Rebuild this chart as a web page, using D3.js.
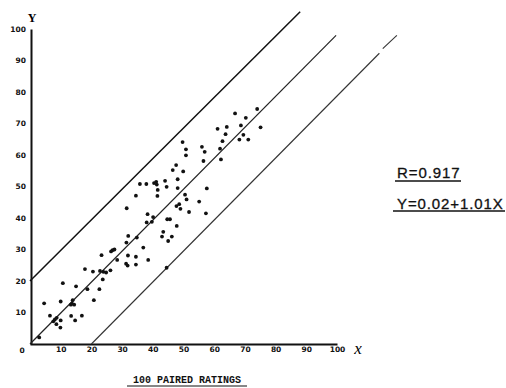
<!DOCTYPE html>
<html>
<head>
<meta charset="utf-8">
<script src="https://cdn.jsdelivr.net/npm/d3@7"></script>
<style>
  body { margin: 0; background: #fff; }
  svg { display: block; }
</style>
</head>
<body>
<svg id="chart" width="506" height="388"></svg>
<script>
// paired ratings (x rating, y rating)
const ratingX = [
  3.0, 4.6, 6.5, 7.6, 8.1, 8.7, 8.6, 10.0, 9.9, 10.0, 10.7, 13.4, 13.9, 13.7, 13.3, 14.4, 14.7, 15.0, 16.9, 17.9,
  18.7, 20.5, 20.8, 22.6, 23.3, 22.8, 23.7, 23.9, 24.8, 26.2, 26.9, 26.4, 27.5, 28.4, 31.9, 31.4, 31.3, 31.8, 34.5, 34.5,
  34.8, 36.9, 38.5, 44.5, 32.0, 35.8, 37.9, 40.4, 41.1, 41.3, 44.0, 46.5, 48.1, 49.9, 47.6, 49.7, 50.8, 50.8, 44.5, 48.1,
  57.6, 41.6, 34.5, 41.5, 50.5, 51.0, 55.1, 31.5, 47.7, 48.6, 49.0, 51.8, 57.3, 38.3, 40.1, 38.0, 39.7, 44.7, 45.6, 47.8,
  43.4, 43.0, 46.2, 45.0, 61.1, 64.1, 63.7, 62.7, 61.9, 62.2, 56.0, 56.9, 56.5, 66.8, 70.3, 68.7, 69.5, 68.2, 71.1, 74.0,
  75.1
];
const ratingY = [
  2.1, 12.9, 9.0, 7.2, 7.8, 8.3, 6.3, 7.5, 5.2, 13.5, 19.3, 8.9, 13.9, 12.8, 12.5, 12.5, 7.5, 18.3, 9.0, 23.8,
  17.4, 23.0, 13.9, 17.4, 28.2, 23.2, 20.5, 22.9, 22.7, 23.4, 29.8, 29.4, 30.0, 26.7, 28.1, 32.2, 25.5, 24.9, 27.7, 25.2,
  33.8, 30.6, 26.7, 24.2, 34.3, 50.8, 50.8, 51.1, 51.5, 50.6, 51.8, 55.2, 52.3, 54.8, 56.8, 64.1, 61.8, 59.9, 49.9, 49.5,
  49.4, 48.9, 47.1, 47.0, 47.4, 45.9, 45.2, 43.1, 43.8, 44.4, 42.9, 41.9, 41.5, 41.2, 40.3, 38.6, 38.8, 39.6, 39.6, 37.5,
  35.6, 34.1, 34.1, 32.7, 68.3, 68.9, 66.6, 64.4, 62.0, 58.6, 62.6, 61.0, 58.1, 73.2, 71.8, 69.4, 66.4, 64.9, 64.9, 74.6,
  68.8
];

// drawn guide lines: [x1, y1, x2, y2] in rating units
const upperBand = [[0, 20, 88, 105.5]];
const fitLine = [[0, 0, 99.7, 98]];
const lowerBand = [[20, 0, 113.8, 92.3], [114.9, 93.8, 119.5, 98]];

const xTicks = [10, 20, 30, 40, 50, 60, 70, 80, 90, 100];
const yTicks = [10, 20, 30, 40, 50, 60, 70, 80, 90, 100];

const notes = ["R=0.917", "Y=0.02+1.01X"];
const caption = "100 PAIRED RATINGS";

const svg = d3.select("#chart");

const x = d3.scaleLinear().domain([0, 100]).range([30, 337]);
const y = d3.scaleLinear().domain([0, 100]).range([344, 29]);

// Axes
const xAxis = svg.append("g")
  .attr("transform", `translate(0,${y(0)})`)
  .call(d3.axisBottom(x).tickValues(xTicks).tickSize(0).tickSizeOuter(0).tickPadding(3));

const yAxis = svg.append("g")
  .attr("transform", `translate(${x(0) + 1},0)`)
  .call(d3.axisLeft(y).tickValues(yTicks).tickSize(0).tickSizeOuter(0).tickPadding(5));

[xAxis, yAxis].forEach(g => {
  g.select(".domain").attr("stroke", "#111").attr("stroke-width", 2);
  g.selectAll("text")
    .attr("fill", "#111")
    .style("font-family", "DejaVu Sans")
    .style("font-weight", "bold")
    .style("font-size", "7.5px");
});

svg.append("text")
  .attr("x", x(0) - 8)
  .attr("y", y(0) + 9)
  .attr("text-anchor", "middle")
  .style("font-family", "DejaVu Sans")
  .style("font-weight", "bold")
  .style("font-size", "7.5px")
  .attr("fill", "#111")
  .text("0");

// axis names
svg.append("text")
  .attr("x", x(0) + 2)
  .attr("y", y(100) - 7)
  .attr("text-anchor", "middle")
  .style("font-family", "Liberation Serif")
  .style("font-weight", "bold")
  .style("font-size", "12px")
  .text("Y");

svg.append("text")
  .attr("x", x(100) + 21)
  .attr("y", y(0) + 10)
  .attr("text-anchor", "middle")
  .style("font-family", "Liberation Serif")
  .style("font-style", "italic")
  .style("font-size", "17px")
  .text("x");

// Guide lines
const drawSegs = (segs, w, col) => {
  svg.append("g")
    .selectAll("line")
    .data(segs)
    .enter()
    .append("line")
    .attr("x1", d => x(d[0]))
    .attr("y1", d => y(d[1]))
    .attr("x2", d => x(d[2]))
    .attr("y2", d => y(d[3]))
    .attr("stroke", col)
    .attr("stroke-width", w);
};
drawSegs(upperBand, 1.5, "#111");
drawSegs(fitLine, 1.2, "#222");
drawSegs(lowerBand, 1.1, "#333");

// Points
svg.append("g")
  .selectAll("circle")
  .data(d3.zip(ratingX, ratingY))
  .enter()
  .append("circle")
  .attr("cx", d => x(d[0]))
  .attr("cy", d => y(d[1]))
  .attr("r", 1.9)
  .attr("fill", "#111");

// Stats notes
const noteG = svg.append("g");
noteG.selectAll("text")
  .data(notes)
  .enter()
  .append("text")
  .attr("x", 397)
  .attr("y", (d, i) => 178 + i * 31)
  .style("font-family", "Liberation Sans")
  .style("font-size", "15px")
  .style("letter-spacing", "0.9px")
  .attr("fill", "#111")
  .attr("stroke", "#111")
  .attr("stroke-width", 0.3)
  .text(d => d);
noteG.selectAll("line")
  .data(notes)
  .enter()
  .append("line")
  .attr("x1", (d, i) => (i ? 393 : 395))
  .attr("x2", (d, i) => (i ? 505 : 461))
  .attr("y1", (d, i) => 181 + i * 30)
  .attr("y2", (d, i) => 181 + i * 30)
  .attr("stroke", "#111")
  .attr("stroke-width", 1.3);

// Caption
svg.append("text")
  .attr("x", 187)
  .attr("y", 383)
  .attr("text-anchor", "middle")
  .style("font-family", "Liberation Mono")
  .style("font-weight", "bold")
  .style("font-size", "10px")
  .attr("fill", "#111")
  .text(caption);
svg.append("line")
  .attr("x1", 127)
  .attr("x2", 247)
  .attr("y1", 386)
  .attr("y2", 386)
  .attr("stroke", "#111")
  .attr("stroke-width", 1.2);
</script>
</body>
</html>
